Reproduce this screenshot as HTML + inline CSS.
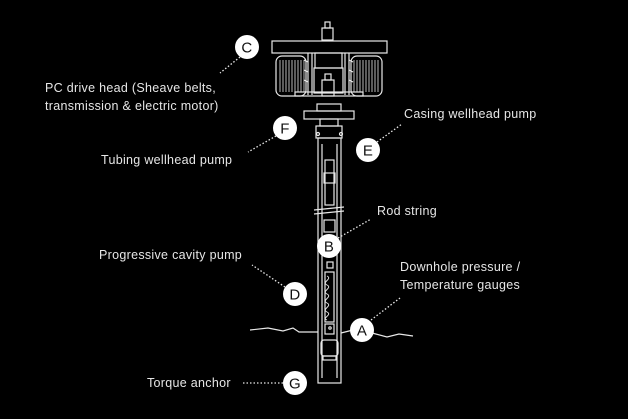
<!DOCTYPE html>
<html><head><style>
html,body{margin:0;padding:0;background:#000;}
svg{display:block}
text{font-family:"Liberation Sans",sans-serif;font-size:12.5px;fill:#e6e6e6;letter-spacing:0.3px}
.c text{font-size:15px;fill:#111;text-anchor:middle}
</style></head><body>
<svg width="628" height="419" viewBox="0 0 628 419" xmlns="http://www.w3.org/2000/svg">
<rect width="628" height="419" fill="#000"/>
<g fill="none" stroke="#e8e8e8" stroke-width="1.2">
<!-- top knob -->
<rect x="325" y="22" width="5" height="6"/>
<rect x="322" y="28" width="11" height="12"/>
<!-- beam -->
<rect x="272" y="41" width="115" height="12"/>
<!-- motors -->
<rect x="276" y="56" width="30" height="40" rx="6"/>
<rect x="351" y="56" width="31" height="40" rx="6"/>
<g stroke-width="0.8">
<path d="M280 60v32M283 60v32M286 60v32M289 60v32M292 60v32M295 60v32M298 60v32M301 60v32M304 60v32"/>
<path d="M354 60v32M357 60v32M360 60v32M363 60v32M366 60v32M369 60v32M372 60v32M375 60v32M378 60v32"/>
</g>
<!-- frame -->
<path d="M308 53v42M312 53v42M345 53v42M349 53v42"/>
<path d="M304 60l4 2M304 70l4 2M304 80l4 2M349 60l4 2M349 70l4 2M349 80l4 2"/>
<rect x="315" y="53" width="27" height="15"/>
<rect x="314" y="68" width="29" height="25"/>
<rect x="295" y="92" width="68" height="4"/>
<rect x="322" y="80" width="12" height="16"/>
<rect x="325" y="74" width="6" height="6"/>
<!-- wellhead -->
<rect x="317" y="104" width="24" height="7"/>
<rect x="304" y="111" width="50" height="8"/>
<rect x="320" y="119" width="18" height="7"/>
<rect x="316" y="126" width="26" height="12"/>
<circle cx="318" cy="134" r="1.5"/><circle cx="341" cy="134" r="1.5"/>
<!-- tubing -->
<rect x="318" y="138" width="23" height="245"/>
<path d="M322 144v234M337 144v234"/>
<rect x="325" y="160" width="9" height="45"/>
<rect x="324" y="173" width="11" height="10"/>
<path d="M314 210l30 -3M314 214l30 -3"/>
<rect x="324" y="220" width="11" height="12"/>
<rect x="327" y="262" width="6" height="6"/>
<rect x="325" y="272" width="9" height="50"/>
<path d="M327 276c6 3 -6 6 0 9c6 3 -6 6 0 9c6 3 -6 6 0 9c6 3 -6 6 0 9c6 3 -6 6 0 8" stroke-width="0.9"/>
<circle cx="330" cy="328" r="1.2"/>
<rect x="325" y="324" width="9" height="10"/>
<rect x="321" y="340" width="17" height="16" rx="3"/>
<rect x="323" y="356" width="13" height="4"/>
<!-- ground -->
<path d="M250 330l18 -2l15 3l10 -3l6 4l19 0M341 333l12 -3M372 333l15 4l12 -3l14 2"/>
</g>
<!-- leaders -->
<g stroke="#e8e8e8" stroke-width="1.3" stroke-dasharray="1.5 2" fill="none">
<path d="M240 57L220 73"/>
<path d="M276 136L248 152"/>
<path d="M377 142L402 124"/>
<path d="M338 238L371 219"/>
<path d="M285 287L252 265"/>
<path d="M371 320L400 298"/>
<path d="M283 383L243 383"/>
</g>
<g class="c">
<g><circle cx="247" cy="47" r="12" fill="#fff"/><text x="247" y="52.5">C</text></g>
<g><circle cx="285" cy="128" r="12" fill="#fff"/><text x="285" y="133.5">F</text></g>
<g><circle cx="368" cy="150" r="12" fill="#fff"/><text x="368" y="155.5">E</text></g>
<g><circle cx="329" cy="246" r="12" fill="#fff"/><text x="329" y="251.5">B</text></g>
<g><circle cx="295" cy="294" r="12" fill="#fff"/><text x="295" y="299.5">D</text></g>
<g><circle cx="362" cy="330" r="12" fill="#fff"/><text x="362" y="335.5">A</text></g>
<g><circle cx="295" cy="383" r="12" fill="#fff"/><text x="295" y="388.5">G</text></g>
</g>
<text x="45" y="92">PC drive head (Sheave belts,</text>
<text x="45" y="110">transmission &amp; electric motor)</text>
<text x="101" y="164">Tubing wellhead pump</text>
<text x="404" y="118">Casing wellhead pump</text>
<text x="377" y="215">Rod string</text>
<text x="99" y="259">Progressive cavity pump</text>
<text x="400" y="271">Downhole pressure /</text>
<text x="400" y="289">Temperature gauges</text>
<text x="147" y="387">Torque anchor</text>
</svg>
</body></html>
